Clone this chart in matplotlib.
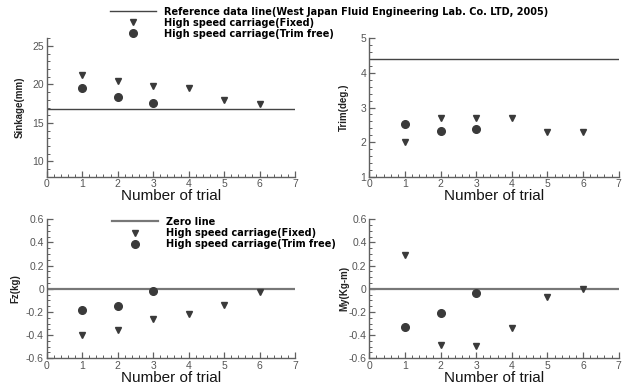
import numpy as np
import matplotlib.pyplot as plt
from matplotlib.ticker import MultipleLocator, FormatStrFormatter

plt.rcParams['font.family'] = ['Liberation Sans', 'DejaVu Sans']

trial_fixed = [1, 2, 3, 4, 5, 6]
trial_free = [1, 2, 3]

sink_fixed = [21.2, 20.5, 19.8, 19.5, 18.0, 17.5]
sink_free = [19.5, 18.4, 17.6]
sink_ref = 16.85

trim_fixed = [2.0, 2.71, 2.69, 2.71, 2.3, 2.3]
trim_free = [2.51, 2.32, 2.37]
trim_ref = 4.4

fz_fixed = [-0.40, -0.357, -0.26, -0.22, -0.14, -0.03]
fz_free = [-0.187, -0.147, -0.023]

my_fixed = [0.29, -0.486, -0.49, -0.337, -0.074, -0.005]
my_free = [-0.33, -0.21, -0.035]

lbl_ref = 'Reference data line(West Japan Fluid Engineering Lab. Co. LTD, 2005)'
lbl_zero = 'Zero line'
lbl_fixed = 'High speed carriage(Fixed)'
lbl_free = 'High speed carriage(Trim free)'

mk = '#3a3a3a'
axcol = '#606060'

fig = plt.figure(figsize=(6.24, 3.85), dpi=100)
ax1 = fig.add_axes([0.0748, 0.541, 0.398, 0.3595])
ax2 = fig.add_axes([0.5918, 0.541, 0.3997, 0.3595])
ax3 = fig.add_axes([0.0748, 0.0694, 0.398, 0.361])
ax4 = fig.add_axes([0.5918, 0.0694, 0.3997, 0.361])


def style(ax, ylim, major, minor, ylabel, fmt):
    ax.set_xlim(0, 7)
    ax.set_ylim(*ylim)
    ax.xaxis.set_major_locator(MultipleLocator(1))
    ax.xaxis.set_minor_locator(MultipleLocator(0.2))
    ax.yaxis.set_major_locator(MultipleLocator(major))
    ax.yaxis.set_minor_locator(MultipleLocator(minor))
    ax.yaxis.set_major_formatter(FormatStrFormatter(fmt))
    for s in ['top', 'right']:
        ax.spines[s].set_visible(False)
    for s in ['left', 'bottom']:
        ax.spines[s].set_color(axcol)
        ax.spines[s].set_linewidth(1.0)
    ax.tick_params(which='both', direction='in', color=axcol,
                   labelsize=7.5, labelcolor='#555555', pad=2)
    ax.tick_params(which='major', length=4, width=0.9)
    ax.tick_params(which='minor', length=2, width=0.7)
    ax.set_xlabel('Number of trial', fontsize=11, labelpad=0, color='#151515')
    ax.set_ylabel(ylabel, fontsize=7, fontweight='bold', color='#222222')


style(ax1, (8, 26), 5, 1, 'Sinkage(mm)', '%d')
style(ax2, (1, 5), 1, 0.2, 'Trim(deg.)', '%d')
style(ax3, (-0.6, 0.6), 0.2, 0.05, 'Fz(kg)', '%g')
style(ax4, (-0.6, 0.6), 0.2, 0.05, 'My(Kg-m)', '%g')
ax1.yaxis.set_label_coords(-0.088, 0.5)
ax2.yaxis.set_label_coords(-0.08, 0.5)
ax3.yaxis.set_label_coords(-0.105, 0.5)
ax4.yaxis.set_label_coords(-0.08, 0.5)

# top row: reference data line + measurements
h_ref = ax1.axhline(sink_ref, color='#444444', lw=1.0)
h_fix = ax1.plot(trial_fixed, sink_fixed, 'v', color=mk, ms=5, ls='none')[0]
h_free = ax1.plot(trial_free, sink_free, 'o', color=mk, ms=5.5, ls='none')[0]
ax2.axhline(trim_ref, color='#444444', lw=1.0)
ax2.plot(trial_fixed, trim_fixed, 'v', color=mk, ms=5, ls='none')
ax2.plot(trial_free, trim_free, 'o', color=mk, ms=5.5, ls='none')

# bottom row: forces and moments around zero line
h_zero = ax3.axhline(0, color='#777777', lw=1.6)
ax3.plot(trial_fixed, fz_fixed, 'v', color=mk, ms=5, ls='none')
ax3.plot(trial_free, fz_free, 'o', color=mk, ms=5.5, ls='none')
ax4.axhline(0, color='#777777', lw=1.6)
ax4.plot(trial_fixed, my_fixed, 'v', color=mk, ms=5, ls='none')
ax4.plot(trial_free, my_free, 'o', color=mk, ms=5.5, ls='none')

leg_kw = dict(loc='upper left', frameon=False, borderpad=0, borderaxespad=0,
              handlelength=4.8, handletextpad=0.8, labelspacing=0.12,
              handleheight=0.7,
              prop={'family': 'DejaVu Sans', 'weight': 'bold', 'size': 7})
fig.legend([h_ref, h_fix, h_free], [lbl_ref, lbl_fixed, lbl_free],
           bbox_to_anchor=(0.176, 0.983), **leg_kw)
fig.legend([h_zero, h_fix, h_free], [lbl_zero, lbl_fixed, lbl_free],
           bbox_to_anchor=(0.179, 0.437), **leg_kw)

fig.savefig('out.png', dpi=100)
